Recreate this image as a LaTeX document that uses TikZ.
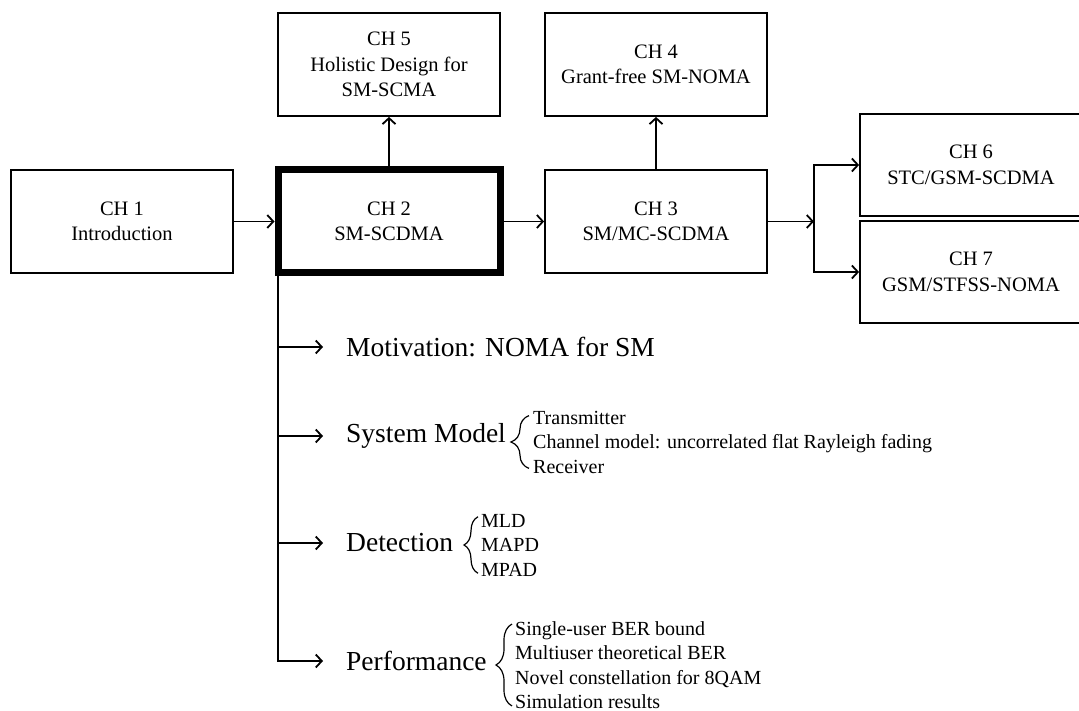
\documentclass[tikz,border=0pt]{standalone}
\usepackage{fontspec}
\setmainfont{Liberation Serif}
\usetikzlibrary{arrows.meta,decorations.pathreplacing,calc}

\begin{document}
\begin{tikzpicture}[x=1pt,y=-1pt,
  chbox/.style={draw, line width=1.8pt, minimum width=222pt, minimum height=103pt,
    align=center, inner sep=0pt, font=\fontsize{20.5}{25.5}\selectfont},
  link/.style={line width=1.8pt, -{Straight Barb[length=6pt,width=13pt,line width=1.8pt]}},
  topic/.style={anchor=west, inner sep=0pt, font=\fontsize{27.5}{33}\selectfont},
  items/.style={anchor=west, align=left, inner sep=0pt, font=\fontsize{20}{24.5}\selectfont},
  curly/.style={decorate, decoration={brace, amplitude=#1, aspect=0.5}, line width=1.2pt},
  curly/.default=16pt]

\clip (0,0) rectangle (1079,711);
\fill[white] (0,0) rectangle (1079,711);

% chapter boxes
\node[chbox] (ch1) at (122,221.5) {CH 1\\Introduction};
\node[chbox, line width=7pt] (ch2) at (389,221.5) {CH 2\\SM-SCDMA};
\node[chbox] (ch3) at (656,221.5) {CH 3\\SM/MC-SCDMA};
\node[chbox] (ch5) at (389,64.5) {CH 5\\Holistic Design for\\SM-SCMA};
\node[chbox] (ch4) at (656,64.5) {CH 4\\Grant-free SM-NOMA};
\node[chbox, minimum height=102pt] (ch6) at (971,165) {CH 6\\STC/GSM-SCDMA};
\node[chbox, minimum height=102pt] (ch7) at (971,272) {CH 7\\GSM/STFSS-NOMA};

% chapter flow
\draw[link] (ch1) -- (ch2);
\draw[link] (ch2) -- (ch3);
\draw[link] (ch2) -- (ch5);
\draw[link] (ch3) -- (ch4);
\coordinate (split) at (814,221.5);
\draw[link] (ch3) -- (split);
\draw[link] (split) |- (ch6.west);
\draw[link] (split) |- (ch7.west);

% outline of chapter 2
\node[topic] (mot) at (346,347) {Motivation: NOMA for SM};
\node[topic] (sys) at (346,436) {System Model};
\node[topic] (det) at (346,543) {Detection};
\node[topic] (perf) at (346,661) {Performance};

\coordinate (trunk) at ([xshift=3.5pt]ch2.south west);
\draw[link, shorten >=23pt] (trunk) |- (perf.west);
\foreach \t in {mot,sys,det}
  \draw[link, shorten >=23pt] (trunk |- \t.west) -- (\t.west);

% sub-items with braces
\node[items] (sysl) at (533,442) {Transmitter\\Channel model: uncorrelated flat Rayleigh fading\\Receiver};
\node[items] (detl) at (481,545) {MLD\\MAPD\\MPAD};
\node[items] (perfl) at (515,665) {Single-user BER bound\\Multiuser theoretical BER\\Novel constellation for 8QAM\\Simulation results};

\draw[curly=18pt] ($(sysl.south west)+(-4,-5)$) -- ($(sysl.north west)+(-4,5)$);
\draw[curly=14pt] ($(detl.south west)+(-3,-3)$) -- ($(detl.north west)+(-3,3)$);
\draw[curly=16pt] ($(perfl.south west)+(-3,-3)$) -- ($(perfl.north west)+(-3,3)$);
\end{tikzpicture}
\end{document}
